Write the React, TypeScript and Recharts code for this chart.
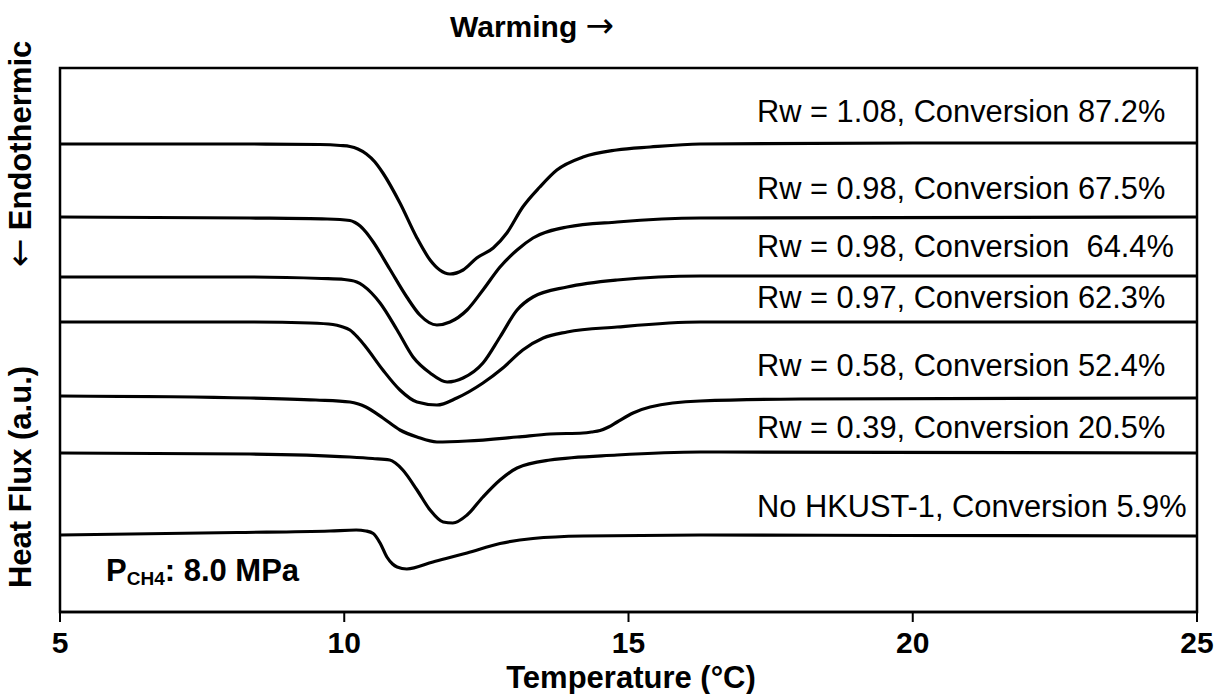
import { LineChart, Line, XAxis, YAxis, ReferenceArea, Customized } from "recharts";

// DSC warming traces, temperature (°C) vs. heat flux (a.u., stacked offsets)
const rw108: [number, number][] = [
  [5, 468], [8.34, 468], [9.57, 467.5], [9.93, 466.5], [10.1, 465.5], [10.24, 463], [10.39, 458],
  [10.54, 450], [10.68, 439], [10.98, 409], [11.27, 375], [11.51, 352], [11.68, 342],
  [11.86, 338], [12.09, 342], [12.33, 354], [12.62, 364], [12.86, 379], [13.14, 405],
  [13.44, 425], [13.74, 442], [14.2, 455], [14.79, 462], [15.38, 465], [16.26, 468],
  [20, 469], [25, 469],
];
const rw098a: [number, number][] = [
  [5, 395], [8.34, 394], [9.7, 393], [10.1, 391.5], [10.19, 389.5], [10.28, 386],
  [10.38, 380], [10.51, 370], [10.8, 343], [11.1, 315], [11.33, 297], [11.63, 287],
  [11.86, 290], [12.16, 302], [12.44, 322], [12.74, 345], [13.04, 362], [13.32, 374],
  [13.92, 385], [14.8, 390], [16.26, 394], [25, 395],
];
const rw098b: [number, number][] = [
  [5, 335], [8.34, 335], [9.6, 333.5], [10.0, 332.5], [10.22, 330], [10.33, 326.5],
  [10.48, 319], [10.63, 309], [10.93, 282], [11.21, 255], [11.51, 239], [11.81, 230],
  [12.09, 234], [12.44, 249], [12.74, 275], [13.04, 302], [13.32, 315], [13.92, 325],
  [14.8, 332], [16.26, 336], [25, 336],
];
const rw097: [number, number][] = [
  [5, 290], [8.34, 290], [9.4, 289], [9.8, 287.5], [9.95, 285.5], [10.1, 282], [10.24, 274.5],
  [10.38, 265], [10.68, 242], [10.98, 222], [11.28, 210], [11.63, 207], [11.98, 214],
  [12.44, 229], [12.79, 244], [13.14, 262], [13.5, 274], [13.92, 280], [14.8, 285],
  [16.26, 290], [25, 290],
];
const rw058: [number, number][] = [
  [5, 216], [8.34, 214], [9.5, 212], [10.1, 210], [10.25, 208], [10.38, 205], [10.68, 194],
  [10.98, 182], [11.28, 175], [11.63, 170], [12.16, 171], [13.04, 175], [13.62, 178],
  [14.2, 179], [14.35, 180], [14.5, 181.5], [14.65, 185], [14.8, 190], [15.08, 199],
  [15.38, 205], [16.26, 211], [18.02, 213], [25, 214],
];
const rw039: [number, number][] = [
  [5, 159], [8.34, 158], [10.1, 155], [10.5, 153.5], [10.8, 152], [10.9, 149], [11.03, 142],
  [11.28, 122], [11.51, 102], [11.74, 90], [11.91, 89], [12.16, 97], [12.44, 115],
  [12.74, 132], [13.04, 144], [13.62, 152], [14.8, 157], [16.26, 160], [25, 159],
];
const noMof: [number, number][] = [
  [5, 77], [8.11, 79.5], [9.75, 81], [10.21, 82], [10.38, 81], [10.51, 78.5], [10.63, 69],
  [10.75, 55], [10.85, 48], [10.93, 45], [11.1, 43], [11.56, 50], [12.16, 59], [12.74, 68.5],
  [13.32, 73.5], [14.2, 76], [16.26, 77], [19.78, 76.5], [25, 76],
];

const traces = [rw108, rw098a, rw098b, rw097, rw058, rw039, noMof];
const traceLabels = [
  "Rw = 1.08, Conversion 87.2%",
  "Rw = 0.98, Conversion 67.5%",
  "Rw = 0.98, Conversion  64.4%",
  "Rw = 0.97, Conversion 62.3%",
  "Rw = 0.58, Conversion 52.4%",
  "Rw = 0.39, Conversion 20.5%",
  "No HKUST-1, Conversion 5.9%",
];
const xTicks = [5, 10, 15, 20, 25];

const W = 1217;
const H = 694;
const FONT = "'Liberation Sans', Arial, sans-serif";
const ARROW_FONT = "'DejaVu Sans', sans-serif";
const labelBaselines = [122, 199, 257, 308, 376, 438, 517];

function Annotations() {
  return (
    <g fontFamily={FONT} fill="#000">
      <text x={450} y={37} fontSize={30} fontWeight="bold">
        Warming <tspan fontFamily={ARROW_FONT} fontWeight="normal" fontSize={34}>→</tspan>
      </text>
      <text x={631} y={688} fontSize={31} fontWeight="bold" textAnchor="middle">
        Temperature (°C)
      </text>
      <text
        transform="translate(31,477) rotate(-90)"
        fontSize={31}
        fontWeight="bold"
        textAnchor="middle"
      >
        Heat Flux (a.u.)
      </text>
      <text
        transform="translate(31,154) rotate(-90)"
        fontSize={31}
        fontWeight="bold"
        textAnchor="middle"
      >
        <tspan fontFamily={ARROW_FONT} fontWeight="normal" fontSize={34}>←</tspan> Endothermic
      </text>
      <text x={106} y={581} fontSize={31} fontWeight="bold">
        P
        <tspan fontSize={19} dy={4}>CH4</tspan>
        <tspan dy={-4}>: 8.0 MPa</tspan>
      </text>
      {traceLabels.map((s, i) => (
        <text
          key={i}
          x={757}
          y={labelBaselines[i]}
          fontSize={30.8}
          style={{ whiteSpace: "pre" }}
        >
          {s}
        </text>
      ))}
    </g>
  );
}

export default function App() {
  return (
    <div style={{ position: "absolute", left: 0, top: 0, width: W, height: H, background: "#fff" }}>
      <LineChart width={W} height={H} margin={{ top: 68, right: 20, bottom: 0, left: 60 }}>
        <XAxis
          type="number"
          dataKey="t"
          domain={[5, 25]}
          ticks={xTicks}
          allowDataOverflow
          height={82}
          axisLine={{ stroke: "#000", strokeWidth: 2.5 }}
          tickLine={{ stroke: "#000", strokeWidth: 2 }}
          tickSize={10}
          tickMargin={10}
          tick={{ fontSize: 30, fontWeight: "bold", fill: "#000", fontFamily: FONT }}
        />
        <YAxis type="number" domain={[0, 544]} hide allowDataOverflow />
        <ReferenceArea
          x1={5}
          x2={25}
          y1={0}
          y2={544}
          fill="none"
          stroke="#000"
          strokeWidth={2.5}
          ifOverflow="visible"
        />
        {traces.map((pts, i) => (
          <Line
            key={i}
            data={pts.map(([t, v]) => ({ t, v }))}
            dataKey="v"
            type="monotone"
            stroke="#000"
            strokeWidth={3.2}
            dot={false}
            activeDot={false}
            isAnimationActive={false}
          />
        ))}
        <Customized component={Annotations} />
      </LineChart>
    </div>
  );
}
